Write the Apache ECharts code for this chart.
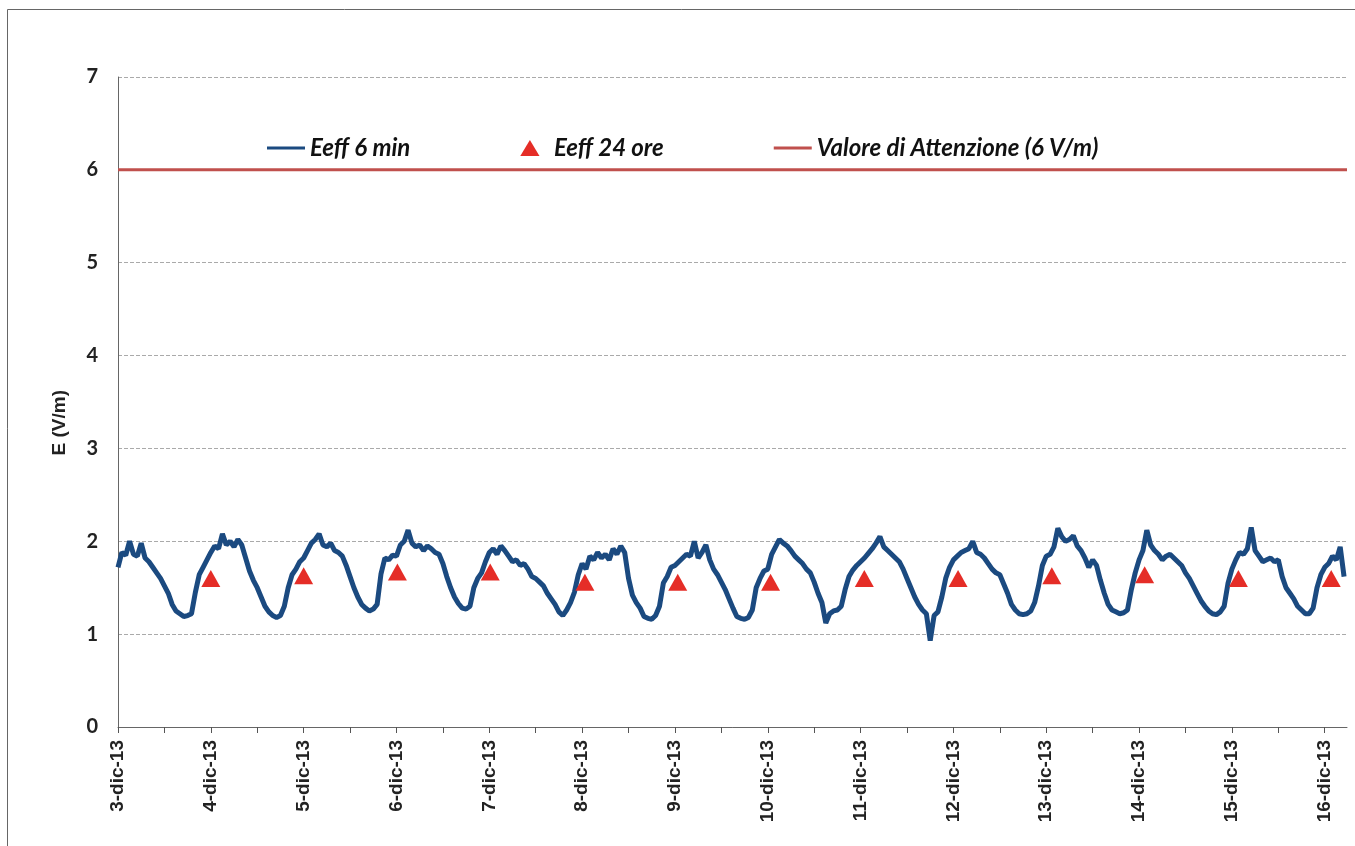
<!DOCTYPE html>
<html>
<head>
<meta charset="utf-8">
<script src="https://cdn.jsdelivr.net/npm/echarts@6/dist/echarts.min.js"></script>
<style>
  html, body { margin: 0; padding: 0; background: #fff; }
  #chart { width: 1355px; height: 846px; }
</style>
</head>
<body>
<div id="chart"></div>
<script>
// valori orari Eeff 6 min (V/m), un array per giorno, 00:00 ... 23:00
const dic03 = [1.72, 1.88, 1.85, 2.0, 1.86, 1.84, 1.98, 1.82, 1.78, 1.72, 1.66, 1.6, 1.52, 1.44, 1.32, 1.25, 1.22, 1.19, 1.2, 1.22, 1.45, 1.64, 1.72, 1.8];
const dic04 = [1.88, 1.95, 1.92, 2.08, 1.96, 2.0, 1.94, 2.02, 1.96, 1.82, 1.68, 1.58, 1.5, 1.4, 1.3, 1.24, 1.2, 1.18, 1.2, 1.3, 1.5, 1.64, 1.7, 1.78];
const dic05 = [1.82, 1.9, 1.98, 2.02, 2.08, 1.96, 1.94, 1.98, 1.9, 1.88, 1.84, 1.74, 1.62, 1.5, 1.4, 1.32, 1.28, 1.25, 1.27, 1.32, 1.65, 1.82, 1.8, 1.85];
const dic06 = [1.84, 1.96, 2.0, 2.12, 1.98, 1.94, 1.96, 1.9, 1.95, 1.92, 1.88, 1.86, 1.76, 1.62, 1.5, 1.4, 1.33, 1.28, 1.27, 1.3, 1.5, 1.6, 1.66, 1.78];
const dic07 = [1.88, 1.92, 1.86, 1.95, 1.9, 1.84, 1.78, 1.8, 1.74, 1.76, 1.7, 1.62, 1.6, 1.56, 1.52, 1.44, 1.38, 1.32, 1.24, 1.2, 1.26, 1.34, 1.45, 1.64];
const dic08 = [1.76, 1.7, 1.84, 1.8, 1.88, 1.82, 1.86, 1.8, 1.92, 1.86, 1.95, 1.88, 1.6, 1.42, 1.34, 1.28, 1.19, 1.17, 1.16, 1.2, 1.3, 1.55, 1.62, 1.72];
const dic09 = [1.74, 1.78, 1.82, 1.86, 1.84, 2.0, 1.82, 1.88, 1.96, 1.8, 1.7, 1.64, 1.56, 1.48, 1.38, 1.28, 1.19, 1.17, 1.16, 1.18, 1.26, 1.5, 1.6, 1.68];
const dic10 = [1.7, 1.86, 1.94, 2.02, 1.98, 1.95, 1.9, 1.84, 1.8, 1.76, 1.7, 1.66, 1.56, 1.44, 1.34, 1.12, 1.22, 1.25, 1.26, 1.3, 1.48, 1.62, 1.69, 1.74];
const dic11 = [1.78, 1.82, 1.87, 1.92, 1.98, 2.05, 1.94, 1.9, 1.86, 1.82, 1.78, 1.7, 1.6, 1.5, 1.4, 1.32, 1.26, 1.22, 0.93, 1.2, 1.24, 1.4, 1.6, 1.72];
const dic12 = [1.8, 1.84, 1.88, 1.9, 1.92, 2.0, 1.88, 1.86, 1.82, 1.76, 1.7, 1.66, 1.64, 1.54, 1.44, 1.32, 1.26, 1.22, 1.21, 1.22, 1.25, 1.34, 1.52, 1.74];
const dic13 = [1.84, 1.86, 1.94, 2.14, 2.05, 2.0, 2.02, 2.06, 1.95, 1.9, 1.82, 1.72, 1.8, 1.74, 1.58, 1.44, 1.32, 1.26, 1.24, 1.22, 1.23, 1.26, 1.48, 1.66];
const dic14 = [1.8, 1.9, 2.12, 1.96, 1.9, 1.86, 1.8, 1.84, 1.86, 1.82, 1.78, 1.74, 1.66, 1.6, 1.52, 1.44, 1.36, 1.3, 1.25, 1.22, 1.21, 1.24, 1.3, 1.55];
const dic15 = [1.7, 1.8, 1.88, 1.86, 1.92, 2.15, 1.9, 1.84, 1.78, 1.8, 1.82, 1.78, 1.8, 1.62, 1.5, 1.44, 1.38, 1.3, 1.26, 1.22, 1.22, 1.28, 1.5, 1.64];
const dic16 = [1.72, 1.76, 1.84, 1.8, 1.94, 1.62];

// medie 24 ore
const dailyDays = [4.0, 5.0, 6.01, 7.01, 8.03, 9.03, 10.03, 11.04, 12.05, 13.06, 14.06, 15.07, 16.07];
const dailyValues = [1.6, 1.63, 1.67, 1.67, 1.56, 1.56, 1.56, 1.6, 1.6, 1.63, 1.64, 1.6, 1.6];

const attentionValue = 6;
const dayLabels = [3, 4, 5, 6, 7, 8, 9, 10, 11, 12, 13, 14, 15, 16];
const xMin = 3;
const xMax = 16.24;

const hourly = [].concat(dic03, dic04, dic05, dic06, dic07, dic08, dic09, dic10, dic11, dic12, dic13, dic14, dic15, dic16);
const lineData = hourly.map((v, i) => [xMin + i / 24, v]);
const triData = dailyDays.map((d, i) => [d, dailyValues[i]]);
const halfDays = [];
dayLabels.forEach(d => { halfDays.push(d); if (d + 0.5 < xMax) halfDays.push(d + 0.5); });

const lineIcon = 'path://M0,0 L38,0 L38,3 L0,3 Z';
const triIcon = 'path://M9,0 L18,15 L0,15 Z';

const chart = echarts.init(document.getElementById('chart'));
chart.setOption({
  animation: false,
  backgroundColor: '#fff',
  grid: { left: 118, right: 8, top: 77, bottom: 119 },
  graphic: [
    { type: 'rect', silent: true, shape: { x: 7.5, y: 9.5, width: 1400, height: 900 },
      style: { fill: 'none', stroke: '#666', lineWidth: 1 } },
    { type: 'text', left: 50, top: 390, rotation: Math.PI / 2,
      style: { text: 'E (V/m)', font: 'bold 19px "Liberation Sans", Arial', fill: '#222' } }
  ],
  legend: {
    left: 262, top: 131,
    itemWidth: 38, itemHeight: 16, itemGap: 110,
    textStyle: { fontFamily: 'Lato', fontStyle: 'italic', fontWeight: 'bold', fontSize: 24, color: '#111' },
    data: [
      { name: 'Eeff 6 min', icon: lineIcon },
      { name: 'Eeff 24 ore', icon: triIcon },
      { name: 'Valore di Attenzione (6 V/m)', icon: lineIcon }
    ]
  },
  xAxis: {
    type: 'value', min: xMin, max: xMax,
    axisLine: { lineStyle: { color: '#666' } },
    axisTick: { show: true, length: 6, customValues: halfDays, lineStyle: { color: '#555' } },
    splitLine: { show: false },
    axisLabel: {
      customValues: dayLabels, rotate: 90, margin: 13,
      fontFamily: '"Liberation Sans", Arial', fontWeight: 'bold', fontSize: 19, color: '#222',
      formatter: v => v + '-dic-13'
    }
  },
  yAxis: {
    type: 'value', min: 0, max: 7, interval: 1,
    axisLine: { show: true, lineStyle: { color: '#666' } },
    axisTick: { show: false },
    splitLine: { lineStyle: { type: 'dashed', color: '#aaa' } },
    axisLabel: { margin: 20, fontFamily: 'Lato', fontWeight: 'bold', fontSize: 20, color: '#222' }
  },
  series: [
    {
      name: 'Eeff 6 min', type: 'line', data: lineData, symbol: 'none',
      lineStyle: { color: '#1b4a80', width: 5 }, itemStyle: { color: '#1b4a80' }, z: 2
    },
    {
      name: 'Eeff 24 ore', type: 'scatter', data: triData,
      symbol: 'triangle', symbolSize: [19, 17],
      itemStyle: { color: '#e52d27', opacity: 1 }, z: 4
    },
    {
      name: 'Valore di Attenzione (6 V/m)', type: 'line', symbol: 'none',
      data: [[xMin, attentionValue], [xMax, attentionValue]],
      lineStyle: { color: '#c0504d', width: 3 }, itemStyle: { color: '#c0504d' }, z: 3
    }
  ]
});
</script>
</body>
</html>
